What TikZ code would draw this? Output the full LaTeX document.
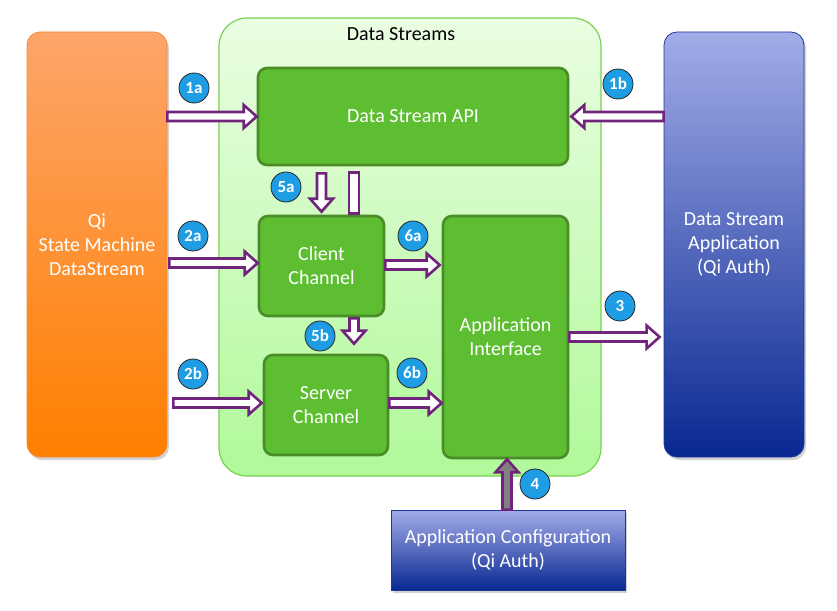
\documentclass[tikz,border=0pt]{standalone}
\usepackage{fontspec}
\setmainfont{Carlito}
\usetikzlibrary{calc,shadows}
\definecolor{apurple}{RGB}{112,36,124}
\definecolor{gfill}{RGB}{94,190,50}
\definecolor{gborder}{RGB}{74,140,40}
\definecolor{ctop}{RGB}{234,253,226}
\definecolor{cbot}{RGB}{176,249,154}
\definecolor{cborder}{RGB}{120,210,80}
\definecolor{otop}{RGB}{253,165,106}
\definecolor{obot}{RGB}{255,127,0}
\definecolor{oborder}{RGB}{245,140,60}
\definecolor{btop}{RGB}{163,172,232}
\definecolor{bbot}{RGB}{8,40,146}
\definecolor{bborder}{RGB}{30,55,150}
\definecolor{badgeblue}{RGB}{30,157,228}
\definecolor{agray}{RGB}{128,128,128}
\tikzset{
  txt/.style={font=\fontsize{20}{24}\selectfont, align=center},
  greenbox/.style={txt, draw=gborder, line width=2.6pt, fill=gfill, rounded corners=9pt, text=white, inner sep=0pt},
  sidebox/.style={txt, rounded corners=13pt, text=white, inner sep=0pt, line width=0.8pt,
     drop shadow={opacity=0.35, shadow xshift=2pt, shadow yshift=-3pt}},
  orangebox/.style={sidebox, draw=oborder, top color=otop, bottom color=obot},
  bluebox/.style={sidebox, draw=bborder, top color=btop, bottom color=bbot},
  container/.style={draw=cborder, line width=1.2pt, rounded corners=28pt, top color=ctop, bottom color=cbot, inner sep=0pt},
  badge/.style={circle, draw=black!85, line width=0.8pt, fill=badgeblue, text=white, minimum size=30pt, inner sep=0pt, font=\fontsize{17}{17}\selectfont\bfseries},
  barrow/.style={draw=apurple, line width=2.6pt, line join=miter},
}
\newcommand\harrow[3]{%
  \path[barrow, fill=#1] let \p1=(#2), \p2=(#3), \n1={ifthenelse(\x2>\x1,1,-1)} in
    (\x1,{\y1+4.5pt}) -- ({\x2-(\n1)*13pt},{\y1+4.5pt}) -- ({\x2-(\n1)*13pt},{\y1+11.5pt})
    -- (\x2,\y1) -- ({\x2-(\n1)*13pt},{\y1-11.5pt}) -- ({\x2-(\n1)*13pt},{\y1-4.5pt})
    -- (\x1,{\y1-4.5pt}) -- cycle;}
\newcommand\varrow[3]{%
  \path[barrow, fill=#1] let \p1=(#2), \p2=(#3), \n1={ifthenelse(\y2>\y1,1,-1)} in
    ({\x1+4.5pt},\y1) -- ({\x1+4.5pt},{\y2-(\n1)*13pt}) -- ({\x1+11.5pt},{\y2-(\n1)*13pt})
    -- (\x1,\y2) -- ({\x1-11.5pt},{\y2-(\n1)*13pt}) -- ({\x1-4.5pt},{\y2-(\n1)*13pt})
    -- ({\x1-4.5pt},\y1) -- cycle;}
\begin{document}
\begin{tikzpicture}[x=1pt,y=-1pt]
\useasboundingbox[fill=white] (0,0) rectangle (837,610);
% container
\node[container, minimum width=382, minimum height=458] (ds) at (410,247) {};
\node[font=\fontsize{20}{20}\selectfont, text=black] (dstitle) at (401,34) {Data Streams};
% side boxes
\node[orangebox, minimum width=140, minimum height=425] (qi) at (97,244.5) {Qi\\State Machine\\DataStream};
\node[bluebox, minimum width=140, minimum height=425] (dsa) at (734,244.5) {Data Stream\\Application\\(Qi Auth)};
\node[bluebox, rounded corners=0pt, minimum width=234, minimum height=80] (appc) at (508,550) {Application Configuration\\(Qi Auth)};
% green boxes
\node[greenbox, minimum width=310, minimum height=97] (api) at (413,116.5) {Data Stream API};
\node[greenbox, minimum width=125, minimum height=100] (cc) at (321.5,266) {Client\\Channel};
\node[greenbox, minimum width=124, minimum height=100] (sc) at (326,405) {Server\\Channel};
\node[greenbox, minimum width=125, minimum height=242] (appi) at (505.5,337) {Application\\Interface};
% connectors
\harrow{white}{qi.east |- api.west}{api.west}
\harrow{white}{dsa.west |- api.east}{$(api.east)+(2,0)$}
\harrow{white}{$(qi.east |- cc.west)+(2,-3)$}{$(cc.west)+(0,-3)$}
\harrow{white}{$(qi.east |- sc.west)+(6,-2)$}{$(sc.west)+(-1,-2)$}
\harrow{white}{appi.east}{$(dsa.west |- appi.east)+(-4,0)$}
\harrow{white}{$(cc.east)+(0,-1)$}{$(cc.east -| appi.west)+(-2,-1)$}
\harrow{white}{$(sc.east)+(0,-2)$}{$(sc.east -| appi.west)+(0,-2)$}
\varrow{white}{$(api.south -| cc.north)+(0,7)$}{$(cc.north)+(0,-3)$}
\coordinate (bartop) at ($(api.south)+(-59,6)$);
\coordinate (barbot) at ($(cc.north -| bartop)+(0,-1)$);
\draw[barrow, fill=white] ($(bartop)+(-5,0)$) rectangle ($(barbot)+(5,0)$);
\coordinate (fivebtop) at ($(cc.south)+(32.5,1)$);
\coordinate (fivebbot) at ($(sc.north -| fivebtop)+(0,-10)$);
\varrow{white}{fivebtop}{fivebbot}
\varrow{agray}{$(appc.north)+(-1,0)$}{$(appi.south)+(1.5,0)$}
% badges
\node[badge] (b1a) at (194,88) {1a};
\node[badge] (b1b) at (618,84) {1b};
\node[badge] (b2a) at (193,236) {2a};
\node[badge] (b2b) at (193,374) {2b};
\node[badge] (b5a) at (286,187) {5a};
\node[badge] (b6a) at (413,236) {6a};
\node[badge] (b5b) at (320,336) {5b};
\node[badge] (b6b) at (412,373) {6b};
\node[badge] (b3) at (620,306) {3};
\node[badge] (b4) at (535,484) {4};
\end{tikzpicture}
\end{document}
